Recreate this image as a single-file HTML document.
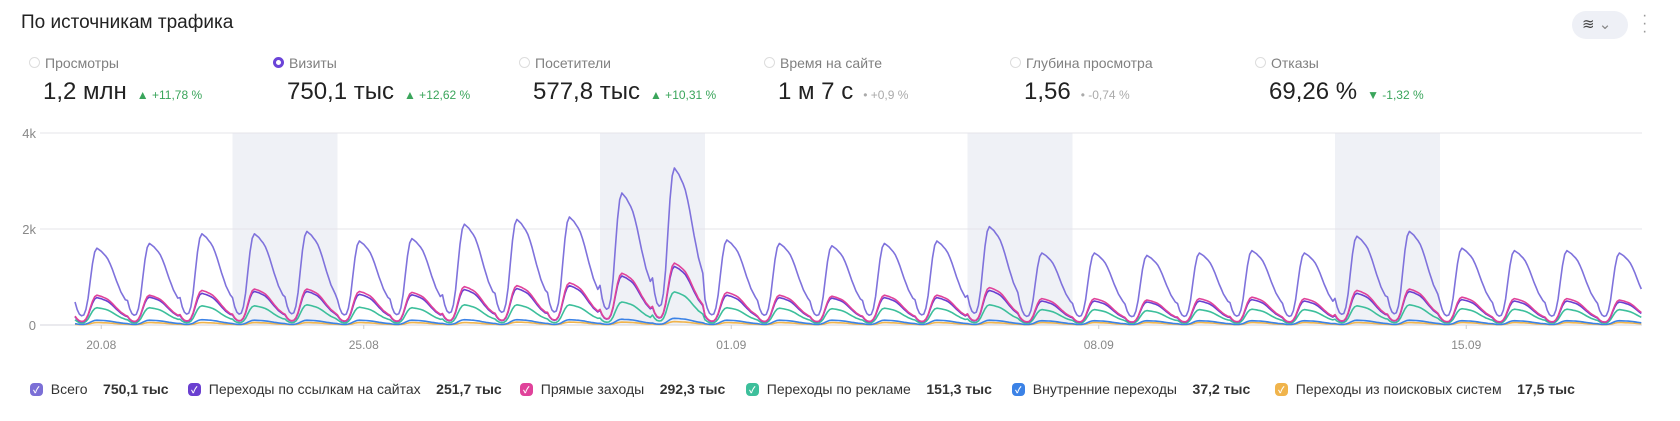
<!DOCTYPE html>
<html><head><meta charset="utf-8">
<style>
body{margin:0;width:1680px;height:421px;background:#fff;font-family:"Liberation Sans","Noto Sans CJK SC",sans-serif;overflow:hidden;position:relative;color:#222}
.abs{position:absolute;white-space:nowrap}
.title{left:21px;top:12px;font-size:19px;color:#222}
.mlabel{font-size:14px;color:#808080}
.radio{width:11px;height:11px;border:1px solid #ddd;border-radius:50%;box-sizing:border-box}
.radio.on{border:3px solid #6b44d8}
.mval{font-size:24px;color:#222}
.delta{font-size:12px;margin-left:10px;color:#3aa55b}
.delta.gray{color:#aaa}
.leg{font-size:14px;color:#333}
.cb{width:13px;height:13px;border-radius:4px;display:inline-block;vertical-align:-2px;position:relative}
.cb::after{content:"✓";color:#fff;font-size:9px;position:absolute;left:3px;top:0px;font-weight:bold}
.lv{font-weight:bold;color:#333}
</style></head><body>
<div class="abs title">По источникам трафика</div>
<div class="abs" style="left:1572px;top:11px;width:56px;height:28px;border-radius:14px;background:#eef0f6;font-size:15px;color:#444;line-height:28px;padding-left:10px;box-sizing:border-box">≋ <span style="color:#888">⌄</span></div>
<div class="abs" style="left:1642px;top:12px;font-size:16px;color:#999;line-height:8px">·<br>·<br>·</div>

<div id="metrics"></div>
<svg id="chart" class="abs" style="left:0;top:0" width="1680" height="421"></svg>
<div id="legend"></div>

<script>
const metricNames=["Просмотры","Визиты","Посетители","Время на сайте","Глубина просмотра","Отказы"];
const metricValues=["1,2 млн","750,1 тыс","577,8 тыс","1 м 7 с","1,56","69,26 %"];
const metricDeltas=["▲ +11,78 %","▲ +12,62 %","▲ +10,31 %","• +0,9 %","• -0,74 %","▼ -1,32 %"];
const metricDeltaGray=[false,false,false,true,true,false];
const mx=[29,273,519,764,1010,1255];
const M=document.getElementById('metrics');
metricNames.forEach((n,i)=>{
  const r=document.createElement('div');r.className='abs radio'+(i===1?' on':'');r.style.left=mx[i]+'px';r.style.top='57px';
  
  
  M.appendChild(r);
  const l=document.createElement('div');l.className='abs mlabel';l.style.left=(mx[i]+16)+'px';l.style.top='55px';l.textContent=n;
  
  
  M.appendChild(l);
  const v=document.createElement('div');v.className='abs mval';v.style.left=(mx[i]+14)+'px';v.style.top='78px';
  v.innerHTML=metricValues[i]+'<span class="delta'+(metricDeltaGray[i]?' gray':'')+'">'+metricDeltas[i]+'</span>';
  
  
  M.appendChild(v);
});

// chart data (thousands of visits, daily peak per series, 20.08 .. 18.09)
const hourProfile=[0.3,0.2,0.14,0.12,0.13,0.2,0.35,0.58,0.8,0.95,1.0,0.98,0.96,0.93,0.9,0.86,0.8,0.73,0.65,0.57,0.5,0.43,0.38,0.33];
const totalPeaks=[1.6,1.7,1.9,1.9,1.95,1.75,1.8,2.1,2.2,2.25,2.75,3.27,1.77,1.7,1.65,1.7,1.75,2.05,1.5,1.5,1.45,1.5,1.55,1.5,1.85,1.95,1.6,1.55,1.55,1.5];
const directPeaks=[0.62,0.62,0.72,0.75,0.75,0.7,0.68,0.8,0.82,0.88,1.08,1.29,0.68,0.62,0.6,0.62,0.62,0.78,0.55,0.55,0.52,0.55,0.58,0.55,0.72,0.75,0.58,0.55,0.55,0.52];
const linksPeaks=[0.57,0.58,0.66,0.7,0.7,0.64,0.63,0.74,0.76,0.82,1.02,1.22,0.62,0.57,0.56,0.57,0.57,0.72,0.5,0.5,0.48,0.5,0.53,0.5,0.66,0.7,0.53,0.5,0.5,0.48];
const adsPeaks=[0.36,0.36,0.4,0.4,0.42,0.37,0.36,0.42,0.42,0.42,0.48,0.69,0.36,0.35,0.34,0.35,0.35,0.42,0.32,0.32,0.3,0.32,0.33,0.32,0.4,0.42,0.34,0.33,0.33,0.32];
const internalPeaks=[0.1,0.1,0.11,0.1,0.1,0.1,0.1,0.11,0.11,0.11,0.12,0.14,0.1,0.1,0.1,0.1,0.1,0.1,0.09,0.09,0.09,0.09,0.09,0.09,0.1,0.1,0.09,0.09,0.09,0.09];
const searchPeaks=[0.05,0.05,0.05,0.05,0.05,0.05,0.05,0.05,0.06,0.06,0.06,0.07,0.05,0.05,0.05,0.05,0.05,0.05,0.05,0.05,0.05,0.05,0.05,0.05,0.05,0.05,0.05,0.05,0.05,0.05];
const xTickLabels=["20.08","25.08","01.09","08.09","15.09"];
const xTickDays=[0,5,12,19,26];
const yTicks=[0,2,4];
const yTickLabels=["0","2k","4k"];
const weekendStarts=[3,10,17,24];
const totalHours=716;

const X0=75,DAY=52.5,Y0=325,YK=48;
const xs=h=>X0+h*DAY/24;
const ys=v=>Y0-v*YK;
const NS='http://www.w3.org/2000/svg';
const svg=document.getElementById('chart');
function mk(t,a){const e=document.createElementNS(NS,t);for(const k in a)e.setAttribute(k,a[k]);svg.appendChild(e);return e;}
weekendStarts.forEach(d=>{
  const r=mk('rect',{x:xs(d*24),y:ys(4),width:2*DAY,height:ys(0)-ys(4),fill:'#eff1f6'});
  
  
});
yTicks.forEach((v,i)=>{
  const l=mk('line',{x1:40,x2:1642,y1:ys(v),y2:ys(v),stroke:i===0?'#d6d6dc':'#e4e4ea','stroke-width':1});
  
  
  const t=mk('text',{x:36,y:ys(v)+5,'text-anchor':'end','font-size':13,fill:'#888'});t.textContent=yTickLabels[i];
  
  
});
xTickLabels.forEach((s,i)=>{
  const x=xs(xTickDays[i]*24+12);
  const tk=mk('line',{x1:x,x2:x,y1:Y0,y2:Y0+4,stroke:'#ccc'});
  
  
  const t=mk('text',{x:x,y:349,'text-anchor':'middle','font-size':12,fill:'#888'});t.textContent=s;
  
  
});
const series=[
 ['search',searchPeaks,'#f0b44c'],['internal',internalPeaks,'#3b82e6'],['ads',adsPeaks,'#3dbf9b'],
 ['links',linksPeaks,'#6a3fd0'],['direct',directPeaks,'#e0429a'],['total',totalPeaks,'#7f72dc']];
series.forEach(([n,p,c])=>{
  let d='';
  for(let h=0;h<=totalHours;h++){const day=Math.floor(h/24);const v=p[day]*hourProfile[h%24];d+=(h?'L':'M')+xs(h).toFixed(1)+','+ys(v).toFixed(1);}
  const e=mk('path',{d:d,fill:'none',stroke:c,'stroke-width':1.6,'stroke-linejoin':'round'});
  
  
});

const legNames=["Всего","Переходы по ссылкам на сайтах","Прямые заходы","Переходы по рекламе","Внутренние переходы","Переходы из поисковых систем"];
const legValues=["750,1 тыс","251,7 тыс","292,3 тыс","151,3 тыс","37,2 тыс","17,5 тыс"];
const legColors=['#7b6fd6','#6a3fd0','#e0429a','#3dbf9b','#3b82e6','#f0b44c'];
const legX=[30,188,520,746,1012,1275];
const L=document.getElementById('legend');
legNames.forEach((n,i)=>{
  const e=document.createElement('div');e.className='abs leg';e.style.left=legX[i]+'px';e.style.top='381px';
  e.innerHTML='<span class="cb" style="background:'+legColors[i]+'"></span>&nbsp;&nbsp;'+n+'&nbsp;&nbsp;&nbsp;&nbsp;<span class="lv">'+legValues[i]+'</span>';
  
  
  L.appendChild(e);
});
</script>
</body></html>
